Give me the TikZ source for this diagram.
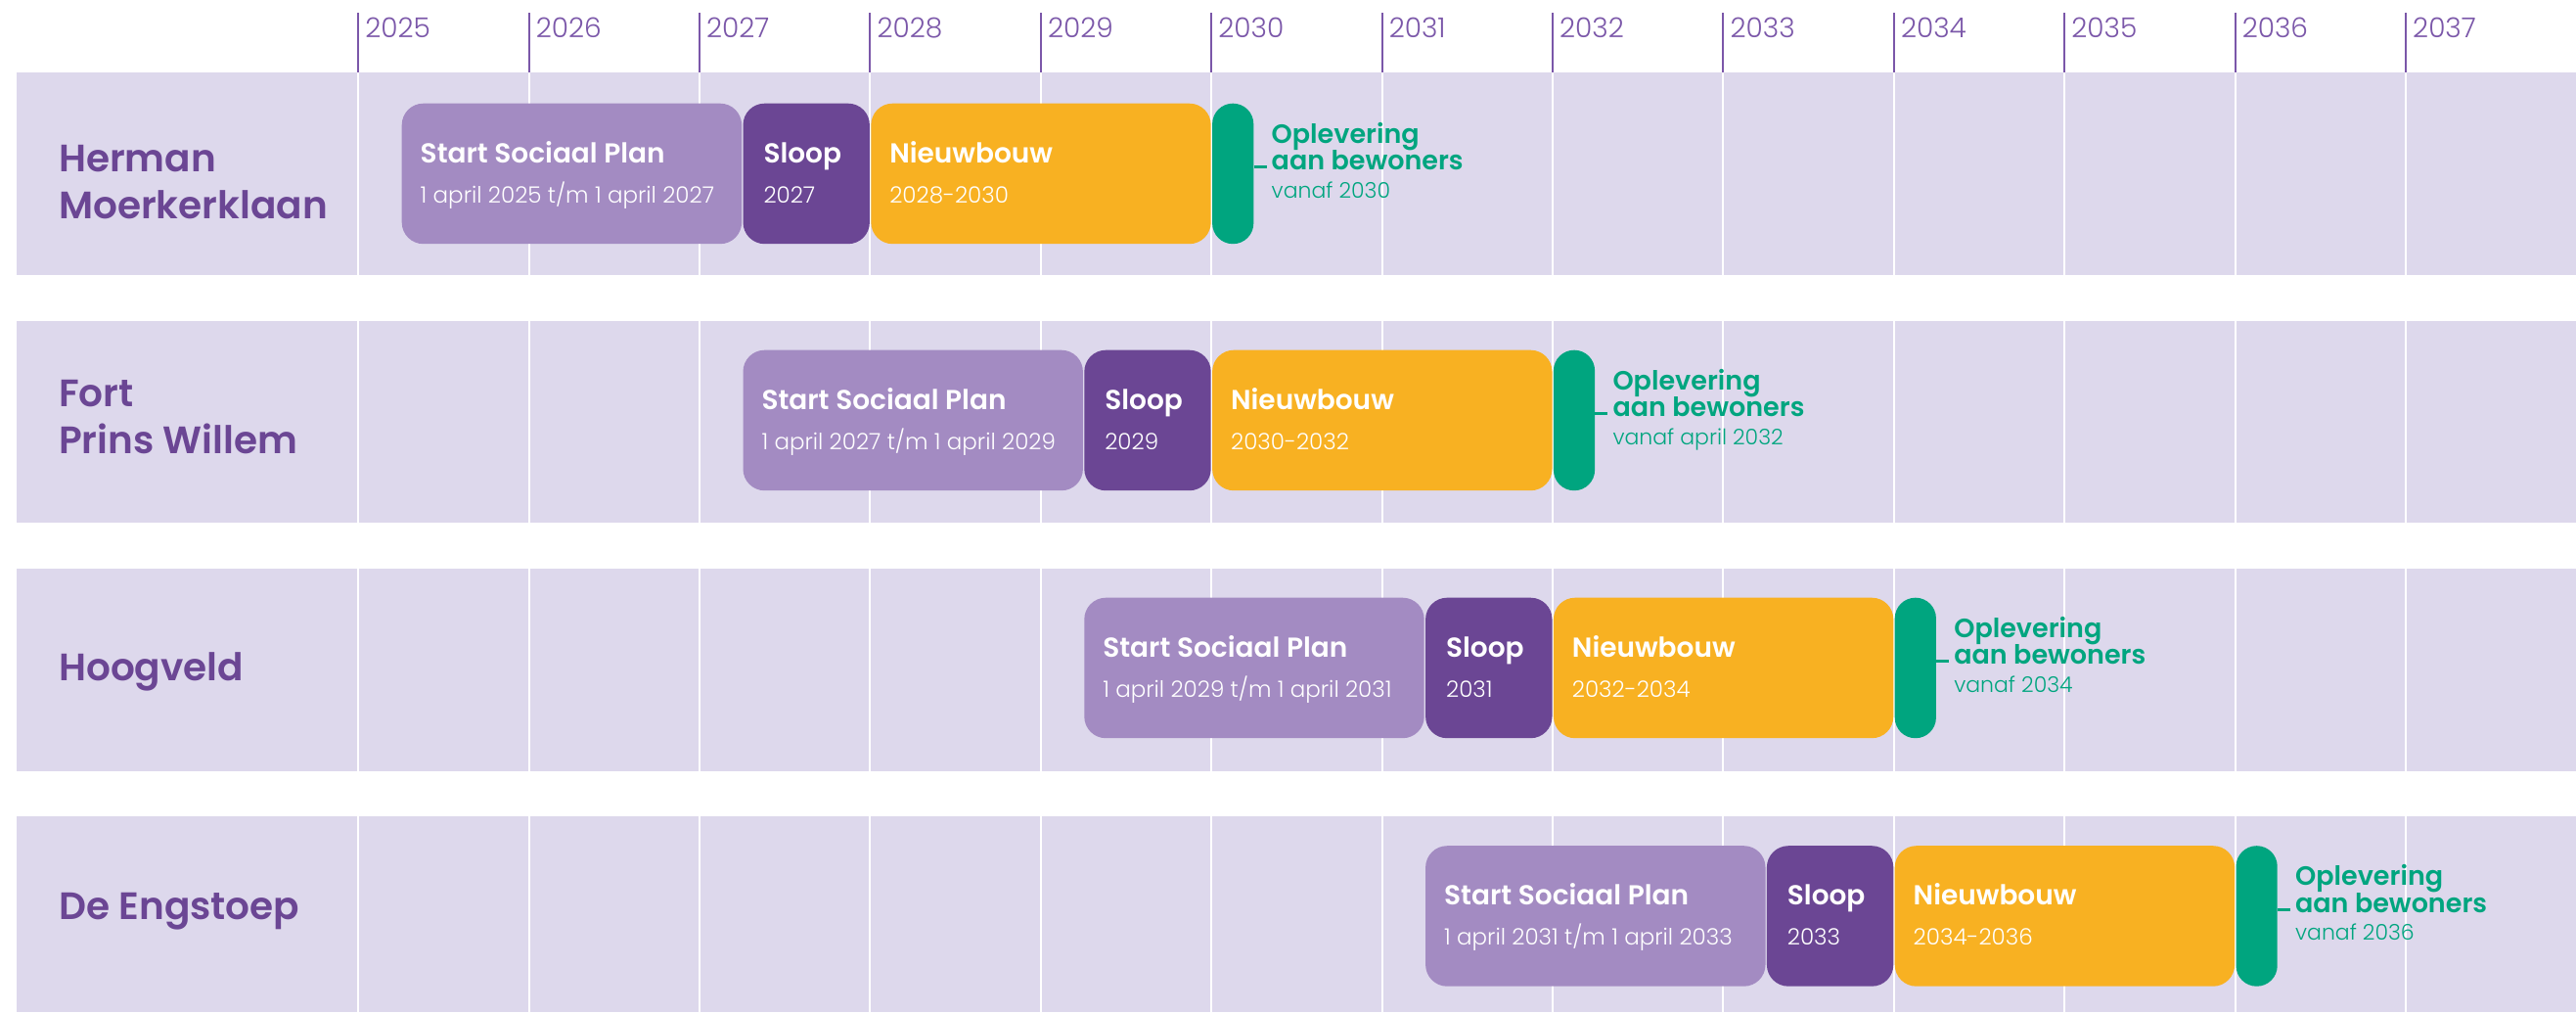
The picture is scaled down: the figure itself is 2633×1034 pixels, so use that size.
\documentclass[tikz,border=0pt]{standalone}
\usepackage{fontspec}
\setmainfont{Poppins}
\newfontfamily\lightfont{Poppins Light}
\newfontfamily\boldfont{Poppins SemiBold}
\usetikzlibrary{calc}
\definecolor{bandbg}{HTML}{DDD8EC}
\definecolor{splc}{HTML}{A38BC2}
\definecolor{sloopc}{HTML}{6B4694}
\definecolor{nieuwc}{HTML}{F8B122}
\definecolor{oplc}{HTML}{00A57F}
\definecolor{tickc}{HTML}{7B57A9}
\definecolor{lblc}{HTML}{6B4694}
\tikzset{
  phase/.style={rounded corners=22pt, minimum height=143.5pt, inner sep=0pt, anchor=north west, draw=none},
  ttl/.style={font=\boldfont\fontsize{28}{28}\selectfont, text=white, inner sep=0pt, anchor=base west},
  sub/.style={font=\lightfont\fontsize{23}{23}\selectfont, text=white, inner sep=0pt, anchor=base west},
  ottl/.style={font=\boldfont\fontsize{27}{27}\selectfont, text=oplc, inner sep=0pt, anchor=base west},
  osub/.style={font=\lightfont\fontsize{22}{22}\selectfont, text=oplc, inner sep=0pt, anchor=base west},
  conn/.style={draw=oplc, line width=3pt, shorten >=5pt},
  rowlbl/.style={font=\boldfont\fontsize{39}{39}\selectfont, text=lblc, inner sep=0pt, anchor=base west},
  yearlbl/.style={font=\lightfont\fontsize{28}{28}\selectfont, text=tickc, inner sep=0pt, anchor=base west},
  tickln/.style={draw=tickc, line width=2pt},
  gridln/.style={draw=white, line width=2pt},
}
\newcommand\tlrow[7]{%
  \coordinate (r#1) at (#2,#3);
  \node[phase, fill=splc, minimum width=347.4pt] (spl#1) at ($(r#1)+(0.7,0)$) {};
  \node[phase, fill=sloopc, minimum width=129.4pt] (sl#1) at ($(r#1)+(349.5,0)$) {};
  \node[phase, fill=nieuwc, minimum width=347.4pt] (nb#1) at ($(r#1)+(480.3,0)$) {};
  \node[phase, fill=oplc, minimum width=42.2pt, rounded corners=21pt] (op#1) at ($(r#1)+(829.1,0)$) {};
  \node[ttl] (spl#1t) at ($(spl#1.north west)+(19,60.5)$) {Start Sociaal Plan};
  \node[sub] (spl#1s) at ($(spl#1.north west)+(19,101.5)$) {#4};
  \node[ttl] (sl#1t) at ($(sl#1.north west)+(21,60.5)$) {Sloop};
  \node[sub] (sl#1s) at ($(sl#1.north west)+(21,101.5)$) {#5};
  \node[ttl] (nb#1t) at ($(nb#1.north west)+(19,60.5)$) {Nieuwbouw};
  \node[sub] (nb#1s) at ($(nb#1.north west)+(19,101.5)$) {#6};
  \node[ottl] (op#1a) at ($(op#1.north east)+(18,40.5)$) {Oplevering};
  \node[ottl] (op#1b) at ($(op#1.north east)+(18,68)$) {aan bewoners};
  \node[osub] (op#1c) at ($(op#1.north east)+(18,96.5)$) {#7};
  \draw[conn] (op#1.east |- op#1b.mid west) -- (op#1b.mid west);
}
\begin{document}
\begin{tikzpicture}[x=1pt,y=-1pt]
\useasboundingbox[fill=white] (0,0) rectangle (2633,1034);
% bands
\fill[bandbg] (17,74) rectangle (2633,281);
\fill[bandbg] (17,327.5) rectangle (2633,534);
\fill[bandbg] (17,581) rectangle (2633,787.5);
\fill[bandbg] (17,834) rectangle (2633,1034);
% grid and year axis
\foreach \k in {0,...,12}{
  \pgfmathsetmacro\xx{366.2+174.4*\k}
  \pgfmathtruncatemacro\yr{2025+\k}
  \draw[gridln] (\xx,74) -- (\xx,281);
  \draw[gridln] (\xx,327.5) -- (\xx,534);
  \draw[gridln] (\xx,581) -- (\xx,787.5);
  \draw[gridln] (\xx,834) -- (\xx,1034);
  \draw[tickln] (\xx,13) -- (\xx,74);
  \node[yearlbl] (y\yr) at (\xx+7,38) {\yr};
}
% row labels
\node[rowlbl] (l1a) at (60,175.5) {Herman};
\node[rowlbl] (l1b) at (60,223.3) {Moerkerklaan};
\node[rowlbl] (l2a) at (60,415.5) {Fort};
\node[rowlbl] (l2b) at (60,463) {Prins Willem};
\node[rowlbl] (l3) at (60,695) {Hoogveld};
\node[rowlbl] (l4) at (60,939) {De Engstoep};
% rows
\tlrow{a}{409.8}{105.5}{1 april 2025 t/m 1 april 2027}{2027}{2028-2030}{vanaf 2030}
\tlrow{b}{758.6}{357.5}{1 april 2027 t/m 1 april 2029}{2029}{2030-2032}{vanaf april 2032}
\tlrow{c}{1107.4}{610.5}{1 april 2029 t/m 1 april 2031}{2031}{2032-2034}{vanaf 2034}
\tlrow{d}{1456.2}{864}{1 april 2031 t/m 1 april 2033}{2033}{2034-2036}{vanaf 2036}
\end{tikzpicture}
\end{document}
